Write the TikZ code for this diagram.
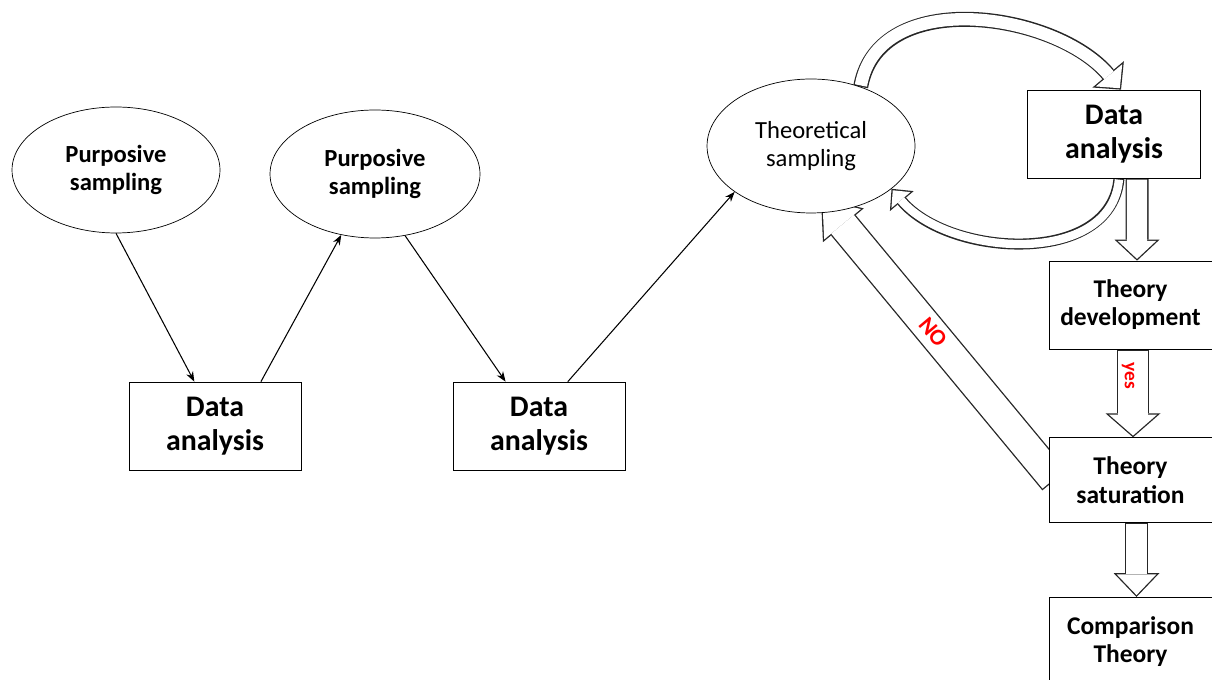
\documentclass[tikz,border=0pt]{standalone}
\usepackage{fontspec}
\setmainfont{Carlito}
\usetikzlibrary{positioning, arrows.meta, shapes.geometric, backgrounds}
\tikzset{
  sampling/.style={draw, ellipse, fill=white, inner sep=0pt, align=center, font=\fontsize{14}{16}\selectfont\bfseries},
  analysis/.style={draw, fill=white, minimum width=3.44cm, minimum height=1.76cm, align=center, font=\fontsize{17}{19}\selectfont\bfseries},
  stage/.style={draw, fill=white, minimum width=3.26cm, minimum height=1.76cm, align=center, font=\fontsize{14.5}{16}\selectfont\bfseries},
  link/.style={->, line width=0.6pt},
  % hollow block arrow: shaft width, head width, head length
  block/.style n args={3}{
    /utils/exec={
      \pgfmathsetlengthmacro\blockS{0.75pt*sqrt((#2/2)^2+(#3)^2)/(#2/2)}
      \pgfmathsetlengthmacro\blockL{#3-0.75pt-\blockS}
      \pgfmathsetlengthmacro\blockH{#2*\blockL/(#3)}
      \pgfmathsetlengthmacro\blockW{#1-1.5pt}
    },
    preaction={draw=black!85, line width=#1, shorten >=0pt, shorten <=0pt,
      -{Triangle[width=#2, length=#3, line width=0pt]}},
    draw=white, line width=\blockW, shorten >=\blockS, shorten <=0.75pt,
    -{Triangle[width=\blockH, length=\blockL, line width=0pt]}
  },
  >=Stealth,
}

\begin{document}
\begin{tikzpicture}[x=0.02cm, y=0.02cm]
    \useasboundingbox (0,0) rectangle (1212,679);
    % sampling rounds
    \node[sampling, minimum width=4.16cm, minimum height=2.52cm] (p1) at (116,509) {Purposive\\sampling};
    \node[sampling, minimum width=4.2cm, minimum height=2.56cm] (p2) at (375,505) {Purposive\\sampling};
    \node[sampling, minimum width=4.16cm, minimum height=2.68cm, font=\fontsize{14}{16}\selectfont] (ts) at (811,533) {Theoretical\\sampling};
    \node[analysis] (da1) at (215,253) {Data\\analysis};
    \node[analysis] (da2) at (539,253) {Data\\analysis};
    % right column
    \node[analysis, minimum width=3.46cm] (da3) at (1114,545) {Data\\analysis};
    \node[stage] (td) at (1130.5,374) {Theory\\development};
    \node[stage, minimum height=1.7cm, below=1.76cm of td] (tsat) {Theory\\saturation};
    \node[stage, below=1.48cm of tsat] (ct) {Comparison\\Theory};

    \draw[link] (p1.south) -- (da1.115);
    \draw[link] (da1.44) -- (p2.-119);
    \draw[link] (p2.-64) -- (da2.127);
    \draw[link] (da2.57) -- (ts.211);

    \begin{scope}[on background layer]
      \draw[block={0.3cm}{0.82cm}{0.4cm}] (ts.50) to[out=80, in=130] ([xshift=0.14cm]da3.north);
      \draw[block={0.22cm}{0.62cm}{0.32cm}] ([xshift=0.1cm]da3.south) to[out=-95, in=-50] (ts.-28);
      \draw[block={0.46cm}{0.9cm}{0.42cm}] ([xshift=0.46cm]da3.south) -- ([xshift=0.13cm]td.north);
      \draw[block={0.64cm}{1.1cm}{0.48cm}] ([xshift=0.05cm]td.south) -- ([xshift=0.05cm]tsat.north);
      \draw[block={0.46cm}{0.92cm}{0.48cm}] ([xshift=0.12cm]tsat.south) -- ([xshift=0.12cm]ct.north);
      \draw[block={0.64cm}{1.06cm}{0.7cm}] ([xshift=0.12cm]tsat.west) -- ([shift={(0.2cm,0.3cm)}]ts.south);
    \end{scope}

    \node[text=red, rotate=-90, font=\fontsize{11}{13}\selectfont\bfseries] (yes) at (1128,303) {yes};
    \node[text=red, rotate=-50, font=\fontsize{13}{15}\selectfont\bfseries] (no) at (933,347) {NO};
\end{tikzpicture}
\end{document}
